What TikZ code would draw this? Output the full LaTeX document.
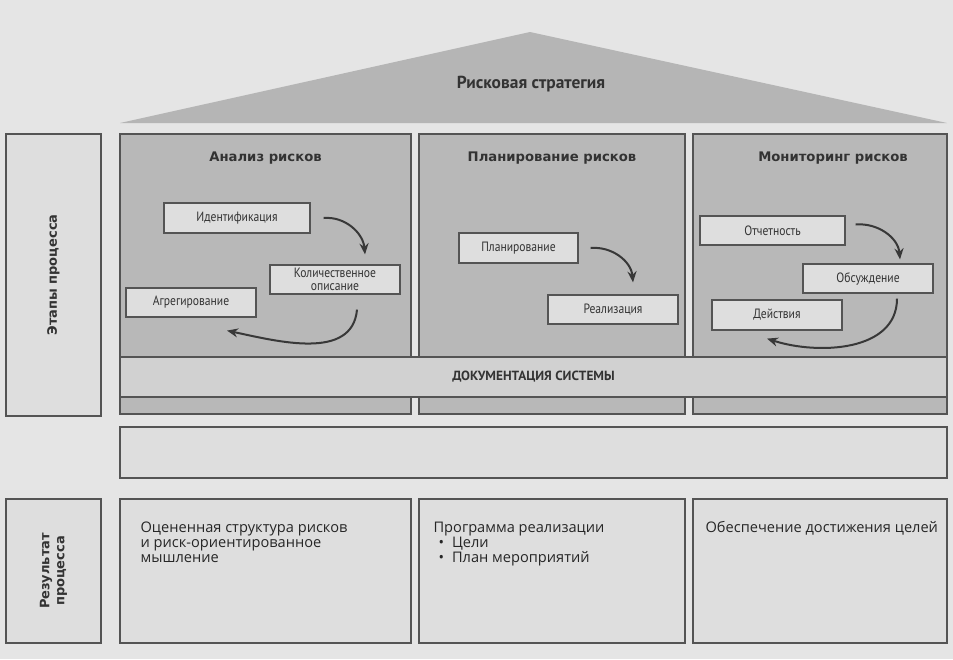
\documentclass[tikz,border=0pt]{standalone}
\usepackage{fontspec}
\setmainfont{PT Sans}
\newfontfamily\headfont{DejaVu Sans}
\newfontfamily\narrowfont{PT Sans}[FakeStretch=0.86]
\newfontfamily\resultfont{Open Sans}
\usetikzlibrary{arrows.meta,positioning}

\definecolor{paper}{gray}{0.9}
\definecolor{roofgray}{gray}{0.71}
\definecolor{pillargray}{gray}{0.72}
\definecolor{boxgray}{gray}{0.87}
\definecolor{bandgray}{gray}{0.82}
\definecolor{edgegray}{gray}{0.33}
\definecolor{arrowgray}{gray}{0.22}

\begin{document}
\begin{tikzpicture}[
    x=1pt, y=-1pt,
    >={Stealth[length=11pt,width=9pt]},
    every node/.style={align=center, inner sep=0pt},
    pillar/.style={
        draw=edgegray,
        line width=1.2pt,
        fill=pillargray,
        minimum height=280pt
    },
    stagebox/.style={
        draw=edgegray,
        line width=1.2pt,
        fill=boxgray,
        minimum width=130pt,
        minimum height=29pt,
        font=\narrowfont\fontsize{13.5}{13}\selectfont,
        text=black!80
    },
    heading/.style={
        font=\headfont\bfseries\fontsize{13.2}{14}\selectfont,
        text=black!80
    },
    sidebox/.style={
        draw=edgegray,
        line width=1.2pt,
        fill=boxgray,
        rotate=90,
        minimum height=95pt,
        font=\headfont\bfseries\fontsize{13}{15}\selectfont,
        text=black!80
    },
    bigtitle/.style={
        font=\bfseries\fontsize{17.4}{18}\selectfont,
        text=black!80
    },
    resultbox/.style={
        draw=edgegray,
        line width=1.2pt,
        fill=boxgray,
        minimum height=144pt
    },
    resulttext/.style={
        anchor=north west,
        align=left,
        font=\resultfont\fontsize{14.6}{15}\selectfont,
        text=black!85
    },
    cycle/.style={
        ->,
        line width=2pt,
        draw=arrowgray
    }
]
\useasboundingbox (0,0) rectangle (953,659);
\fill[paper] (0,0) rectangle (953,659);

% roof
\fill[roofgray] (120,123) -- (530,32) -- (947,123) -- cycle;
\node[bigtitle] (strategy) at (531,84) {Рисковая стратегия};

% pillars
\node[pillar, minimum width=291pt] (analysis) at (265.5,274) {};
\node[pillar, minimum width=266pt] (planning) at (552,274) {};
\node[pillar, minimum width=254pt] (monitoring) at (820,274) {};

\node[heading, below=18pt of analysis.north] (analysistitle) {Анализ рисков};
\node[heading, below=18pt of planning.north] (planningtitle) {Планирование рисков};
\node[heading, below=18pt of monitoring.north, xshift=13pt] (monitoringtitle) {Мониторинг рисков};

\node[sidebox, minimum width=282pt] (stages) at (53.5,275) {Этапы процесса};

% analysis
\node[stagebox, minimum width=146pt, minimum height=30pt] (ident) at (237,218) {Идентификация};
\node[stagebox] (quant) at (335,279.5) {Количественное\\описание};
\node[stagebox] (aggr) at (191,302.5) {Агрегирование};

\draw[cycle] ([xshift=13pt]ident.east) to[out=5,in=95] ([xshift=30pt,yshift=10pt]quant.north);
\draw[cycle] ([xshift=22pt,yshift=-15pt]quant.south) to[out=-95,in=-12] ([xshift=36pt,yshift=-13pt]aggr.south);

% planning
\node[stagebox, minimum width=119pt, minimum height=30pt] (plan) at (518.5,248) {Планирование};
\node[stagebox] (real) at (613,309.5) {Реализация};

\draw[cycle] ([xshift=12pt]plan.east) to[out=5,in=95] ([xshift=20pt,yshift=12pt]real.north);

% monitoring
\node[stagebox, minimum width=145pt] (report) at (772.5,230.5) {Отчетность};
\node[stagebox] (discuss) at (868,278.5) {Обсуждение};
\node[stagebox, minimum height=30pt] (act) at (777,315) {Действия};

\draw[cycle] ([xshift=10pt,yshift=6pt]report.east) to[out=5,in=95] ([xshift=32pt,yshift=4pt]discuss.north);
\draw[cycle] ([xshift=29pt,yshift=-5pt]discuss.south) to[out=-90,in=-18] ([xshift=-10pt,yshift=-8pt]act.south);

% documentation
\node[draw=edgegray, line width=1.2pt, fill=bandgray, minimum width=827pt, minimum height=40pt,
      font=\bfseries\fontsize{13.3}{14}\selectfont, text=black!80] (docs) at (533.5,377) {ДОКУМЕНТАЦИЯ СИСТЕМЫ};

\node[draw=edgegray, line width=1.2pt, fill=boxgray, minimum width=827pt, minimum height=51pt] (blank) at (533.5,452.5) {};

% results
\node[sidebox, minimum width=144pt] (outcome) at (53.5,571) {Результат\\процесса};

\node[resultbox, minimum width=291pt] (res1) at (265.5,571) {};
\node[resultbox, minimum width=266pt] (res2) at (552,571) {};
\node[resultbox, minimum width=254pt] (res3) at (820,571) {};

\node[resulttext] (res1text) at ([xshift=21pt,yshift=-23pt]res1.north west) {Оцененная структура рисков\\и риск-ориентированное\\мышление};
\node[resulttext] (res2text) at ([xshift=15pt,yshift=-23pt]res2.north west) {Программа реализации\\\hspace*{5pt}•\hspace{8pt}Цели\\\hspace*{5pt}•\hspace{8pt}План мероприятий};
\node[resulttext] (res3text) at ([xshift=13pt,yshift=-23pt]res3.north west) {Обеспечение достижения целей};
\end{tikzpicture}
\end{document}
